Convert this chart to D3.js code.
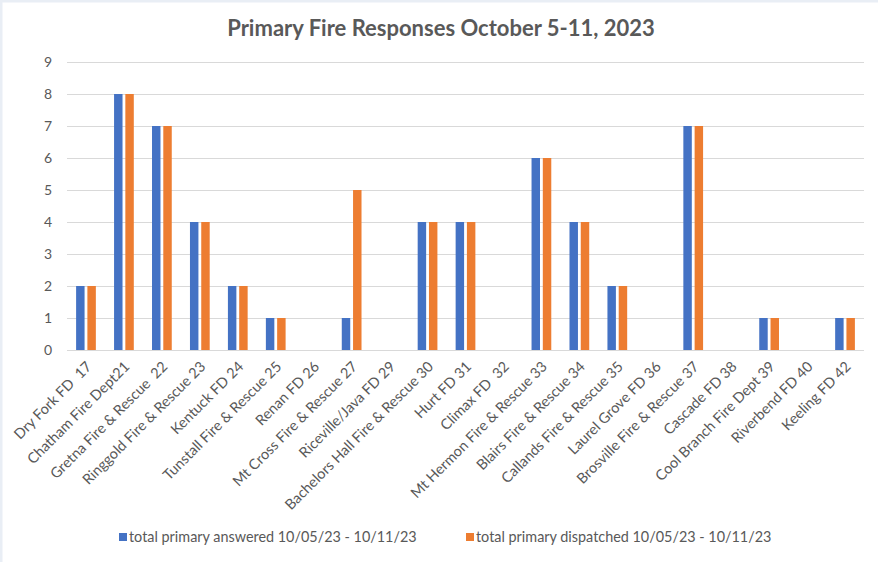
<!DOCTYPE html>
<html><head><meta charset="utf-8">
<script src="https://cdn.jsdelivr.net/npm/d3@7"></script>
<style>
html,body{margin:0;padding:0;background:#fff;}
svg{display:block;}
</style></head>
<body>
<script>
const categories = ["Dry Fork FD  17","Chatham Fire Dept21","Gretna Fire & Rescue  22","Ringgold Fire & Rescue 23","Kentuck FD 24","Tunstall Fire & Rescue 25","Renan FD 26","Mt Cross Fire & Rescue 27","Riceville/Java FD 29","Bachelors Hall Fire & Rescue 30","Hurt FD 31","Climax FD  32","Mt Hermon Fire & Rescue 33","Blairs Fire & Rescue 34","Callands Fire & Rescue 35","Laurel Grove FD 36","Brosville Fire & Rescue 37","Cascade FD 38","Cool Branch Fire Dept 39","Riverbend FD 40","Keeling FD 42"];
const answered =   [2,8,7,4,2,1,0,1,0,4,4,0,6,4,2,0,7,0,1,0,1];
const dispatched = [2,8,7,4,2,1,0,5,0,4,4,0,6,4,2,0,7,0,1,0,1];
const seriesNames = ["total primary answered 10/05/23 - 10/11/23","total primary dispatched 10/05/23 - 10/11/23"];
const seriesColors = ["#4472C4","#ED7D31"];
const yTicks = [0,1,2,3,4,5,6,7,8,9];
const title = "Primary Fire Responses October 5-11, 2023";

(function(){
const W=878,H=562;
const svg=d3.select("body").append("svg").attr("width",W).attr("height",H);
svg.append("rect").attr("width",W).attr("height",H).attr("fill","#ffffff");
svg.append("rect").attr("x",0).attr("y",0).attr("width",W).attr("height",2.5).attr("fill","#e9eef5");
svg.append("rect").attr("x",0).attr("y",0).attr("width",2.5).attr("height",H).attr("fill","#e9eef5");

const pL=67,pR=864,pT=62,pB=350;
const font="Lato, 'Open Sans', sans-serif";
const txt="#595959";

const y=d3.scaleLinear().domain([0,9]).range([pB,pT]);
const x0=d3.scaleBand().domain(categories).range([pL,pR]).paddingInner(0.48).paddingOuter(0.24);
const x1=d3.scaleBand().domain([0,1]).range([0,x0.bandwidth()]).paddingInner(0.25);

const yAxis=d3.axisLeft(y).tickValues(yTicks).tickSize(-(pR-pL)).tickPadding(15).tickFormat(d3.format("d"));
const gy=svg.append("g").attr("transform",`translate(${pL},0)`).call(yAxis);
gy.select(".domain").remove();
gy.selectAll(".tick line").attr("stroke","#d9d9d9").attr("stroke-width",1);
gy.selectAll(".tick text").attr("fill",txt).style("font-family",font).style("font-size","14px");

const data=categories.map((c,i)=>({c,vals:[answered[i],dispatched[i]]}));
const g=svg.append("g");
g.selectAll("g.grp").data(data).join("g").attr("class","grp")
 .attr("transform",d=>`translate(${x0(d.c)},0)`)
 .selectAll("rect").data(d=>d.vals.map((v,k)=>({v,k}))).join("rect")
 .attr("x",d=>x1(d.k)).attr("width",x1.bandwidth())
 .attr("y",d=>y(d.v)).attr("height",d=>y(0)-y(d.v))
 .attr("fill",d=>seriesColors[d.k]);

const xAxis=d3.axisBottom(x0).tickSize(0).tickPadding(0);
const gx=svg.append("g").attr("transform",`translate(0,${pB})`).call(xAxis);
gx.select(".domain").remove();
gx.selectAll(".tick text")
 .attr("fill",txt).style("font-family",font).style("font-size","14.5px").style("white-space","pre")
 .attr("text-anchor","end").attr("y",0).attr("dy","0.35em")
 .attr("transform","translate(3,14) rotate(-45)");

svg.append("text").attr("x",441).attr("y",36).attr("text-anchor","middle")
 .attr("fill",txt).style("font-family",font).style("font-size","22px").style("font-weight","bold")
 .text(title);

const legX=[119,466];
const lg=svg.append("g");
seriesNames.forEach((n,i)=>{
  lg.append("rect").attr("x",legX[i]).attr("y",533).attr("width",8).attr("height",8).attr("fill",seriesColors[i]);
  lg.append("text").attr("x",legX[i]+10).attr("y",542).attr("fill",txt)
   .style("font-family",font).style("font-size","14.4px").text(n);
});
})();
</script>
</body></html>
